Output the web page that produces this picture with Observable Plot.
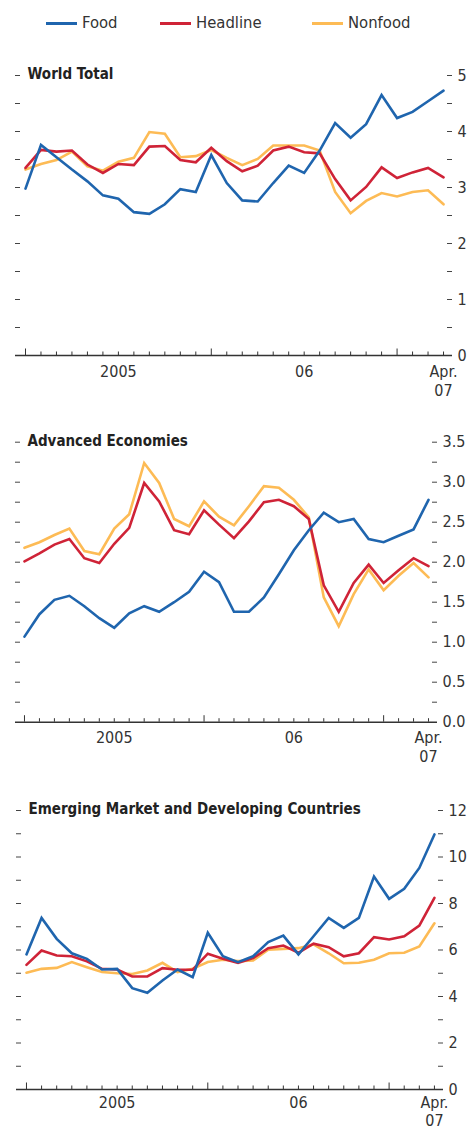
<!DOCTYPE html>
<html><head><meta charset="utf-8">
<script src="https://cdn.jsdelivr.net/npm/d3@7"></script>
<script src="https://cdn.jsdelivr.net/npm/@observablehq/plot@0.6"></script>
<style>
body{margin:0;background:#fff;}
#root{position:relative;width:470px;height:1130px;font-family:"DejaVu Sans Condensed","Liberation Sans Narrow",sans-serif;color:#333;overflow:hidden;}
.item{position:absolute;top:13px;height:20px;display:flex;align-items:center;font-size:16.5px;line-height:20px;white-space:nowrap;}
.sw{display:inline-block;width:31px;height:3px;margin-right:5px;}
.panel{position:absolute;left:0;}
</style></head><body><div id="root"></div>
<script>
// Months shown (monthly data, Jan 2005 – Apr 2007)
const months = ["2005-01","2005-02","2005-03","2005-04","2005-05","2005-06","2005-07","2005-08","2005-09","2005-10","2005-11","2005-12",
"2006-01","2006-02","2006-03","2006-04","2006-05","2006-06","2006-07","2006-08","2006-09","2006-10","2006-11","2006-12",
"2007-01","2007-02","2007-03","2007-04"];
const xLabelMonths = ["2005-07","2006-07","2007-04"];
const xLabels = ["2005","06","Apr.\n07"];

const seriesNames = ["Food","Headline","Nonfood"];
const seriesColors = ["#1f65ae","#cf2337","#fdbb55"];

// World Total
const worldFood = [2.98,3.76,3.54,3.32,3.11,2.86,2.80,2.56,2.53,2.70,2.97,2.92,3.58,3.08,2.77,2.75,3.08,3.39,3.26,3.66,4.15,3.89,4.13,4.65,4.24,4.35,4.54,4.73];
const worldHeadline = [3.35,3.67,3.64,3.66,3.41,3.26,3.42,3.40,3.73,3.74,3.49,3.45,3.71,3.47,3.29,3.39,3.66,3.73,3.63,3.61,3.15,2.77,3.01,3.36,3.17,3.27,3.35,3.18];
const worldNonfood = [3.32,3.42,3.49,3.64,3.38,3.30,3.46,3.53,3.99,3.96,3.54,3.56,3.67,3.53,3.40,3.51,3.75,3.75,3.75,3.66,2.92,2.54,2.76,2.90,2.84,2.92,2.95,2.70];
const worldTicks = [0,1,2,3,4,5];

// Advanced Economies
const advFood = [1.07,1.35,1.53,1.58,1.45,1.30,1.18,1.36,1.45,1.38,1.50,1.63,1.88,1.75,1.38,1.38,1.56,1.85,2.15,2.40,2.62,2.50,2.54,2.29,2.25,2.33,2.41,2.78];
const advHeadline = [2.01,2.11,2.22,2.29,2.05,1.99,2.23,2.43,2.99,2.76,2.40,2.35,2.65,2.47,2.30,2.51,2.75,2.78,2.70,2.54,1.71,1.38,1.74,1.97,1.74,1.90,2.05,1.95];
const advNonfood = [2.18,2.25,2.34,2.42,2.14,2.10,2.42,2.60,3.24,2.99,2.54,2.45,2.76,2.57,2.46,2.70,2.95,2.93,2.78,2.56,1.56,1.20,1.60,1.91,1.65,1.83,1.99,1.81];
const advTicks = [0,0.5,1,1.5,2,2.5,3,3.5];

// Emerging Market and Developing Countries
const emFood = [5.81,7.38,6.48,5.86,5.62,5.16,5.19,4.36,4.16,4.69,5.16,4.83,6.74,5.73,5.48,5.73,6.34,6.62,5.81,6.59,7.38,6.95,7.38,9.16,8.20,8.63,9.53,10.97];
const emHeadline = [5.36,5.98,5.76,5.73,5.51,5.19,5.16,4.86,4.86,5.22,5.15,5.15,5.84,5.62,5.45,5.65,6.08,6.19,5.88,6.27,6.12,5.73,5.86,6.55,6.45,6.59,7.05,8.24];
const emNonfood = [5.02,5.19,5.23,5.48,5.26,5.05,5.00,4.97,5.12,5.45,5.05,5.19,5.48,5.58,5.52,5.55,6.01,6.05,6.08,6.24,5.86,5.43,5.45,5.58,5.86,5.88,6.15,7.15];
const emTicks = [0,2,4,6,8,10,12];

const FONT = '"DejaVu Sans Condensed","Liberation Sans Narrow",sans-serif';
const root = document.getElementById("root");

// Legend
const legendLeft = [46,160,312];
seriesNames.forEach((n,i)=>{
  const d = document.createElement("div");
  d.className="item"; d.style.left = legendLeft[i]+"px";
  d.innerHTML = `<span class="sw" style="background:${seriesColors[i]}"></span><span>${n}</span>`;
  root.appendChild(d);
});

function panel(cfg){
  const {title, food, headline, nonfood, yMax, dashStep, labelTicks, fmt, top, height, mt, mb, ml, mr, xdom, pad, lh} = cfg;
  const W = 470;
  const plotW = W - ml - mr, plotH = height - mt - mb;
  const rows = [];
  [nonfood, headline, food].forEach((arr, k)=>{
    const name = ["Nonfood","Headline","Food"][k];
    arr.forEach((v,i)=>rows.push({series:name, i, month: months[i], value:v}));
  });
  const idx = months.map((m,i)=>i);
  const jan = idx.filter(i=>months[i].endsWith("-01"));
  const other = idx.filter(i=>!months[i].endsWith("-01"));
  const dashes = d3.range(dashStep, yMax + dashStep/2, dashStep);
  const labIdx = xLabelMonths.map(m=>months.indexOf(m));
  const chart = Plot.plot({
    width: W, height, marginTop: mt, marginBottom: mb, marginLeft: ml, marginRight: mr,
    style:{fontFamily:FONT, fontSize:"16px", color:"#333", background:"transparent", overflow:"visible"},
    x:{type:"linear", domain:xdom, label:null},
    y:{domain:[0,yMax], label:null},
    color:{domain:seriesNames, range:seriesColors},
    marks:[
      Plot.tickY(dashes,{y:d=>d, insetRight: plotW-5, stroke:"#444", strokeWidth:1}),
      Plot.tickY(dashes,{y:d=>d, insetLeft: plotW-5, stroke:"#444", strokeWidth:1}),
      Plot.tickX(other,{x:d=>d, insetTop: plotH-3.5, stroke:"#333", strokeWidth:1}),
      Plot.tickX(jan,{x:d=>d, insetTop: plotH-6.5, stroke:"#333", strokeWidth:1}),
      Plot.ruleY([0],{stroke:"#333", strokeWidth:1.5}),
      Plot.line(rows,{x:"i", y:"value", z:"series", stroke:"series", strokeWidth:2.6, strokeLinejoin:"miter", strokeMiterlimit:3}),
      Plot.text([title],{frameAnchor:"top-left", dx:12, dy:-1, textAnchor:"start", lineAnchor:"middle", fontWeight:"bold", fontSize:15, fill:"#222"}),
      Plot.axisY({anchor:"right", label:null, ticks:labelTicks, tickSize:0, tickPadding:5, tickFormat:fmt, fill:"#333"}),
      Plot.axisX({label:null, ticks:labIdx, tickSize:0, tickPadding:pad, tickFormat:(d)=>xLabels[labIdx.indexOf(d)], fill:"#333", lineHeight:lh})
    ]
  });
  chart.classList.add("panel");
  chart.style.top = top+"px";
  root.appendChild(chart);
}

panel({title:"World Total", food:worldFood, headline:worldHeadline, nonfood:worldNonfood, yMax:5, dashStep:0.5, labelTicks:worldTicks, fmt:d3.format("d"),
  top:50, height:360, mt:25, mb:55, ml:15, mr:18, xdom:[-0.646,27.58], pad:8, lh:1.2});
panel({title:"Advanced Economies", food:advFood, headline:advHeadline, nonfood:advNonfood, yMax:3.5, dashStep:0.25, labelTicks:advTicks, fmt:d3.format(".1f"),
  top:415, height:365, mt:26.7, mb:58.3, ml:15, mr:33, xdom:[-0.60,27.60], pad:8, lh:1.15});
panel({title:"Emerging Market and Developing Countries", food:emFood, headline:emHeadline, nonfood:emNonfood, yMax:12, dashStep:1, labelTicks:emTicks, fmt:d3.format("d"),
  top:785, height:345, mt:25, mb:41, ml:16, mr:27, xdom:[-0.66,27.6], pad:5, lh:1.15});
</script>
</body></html>
